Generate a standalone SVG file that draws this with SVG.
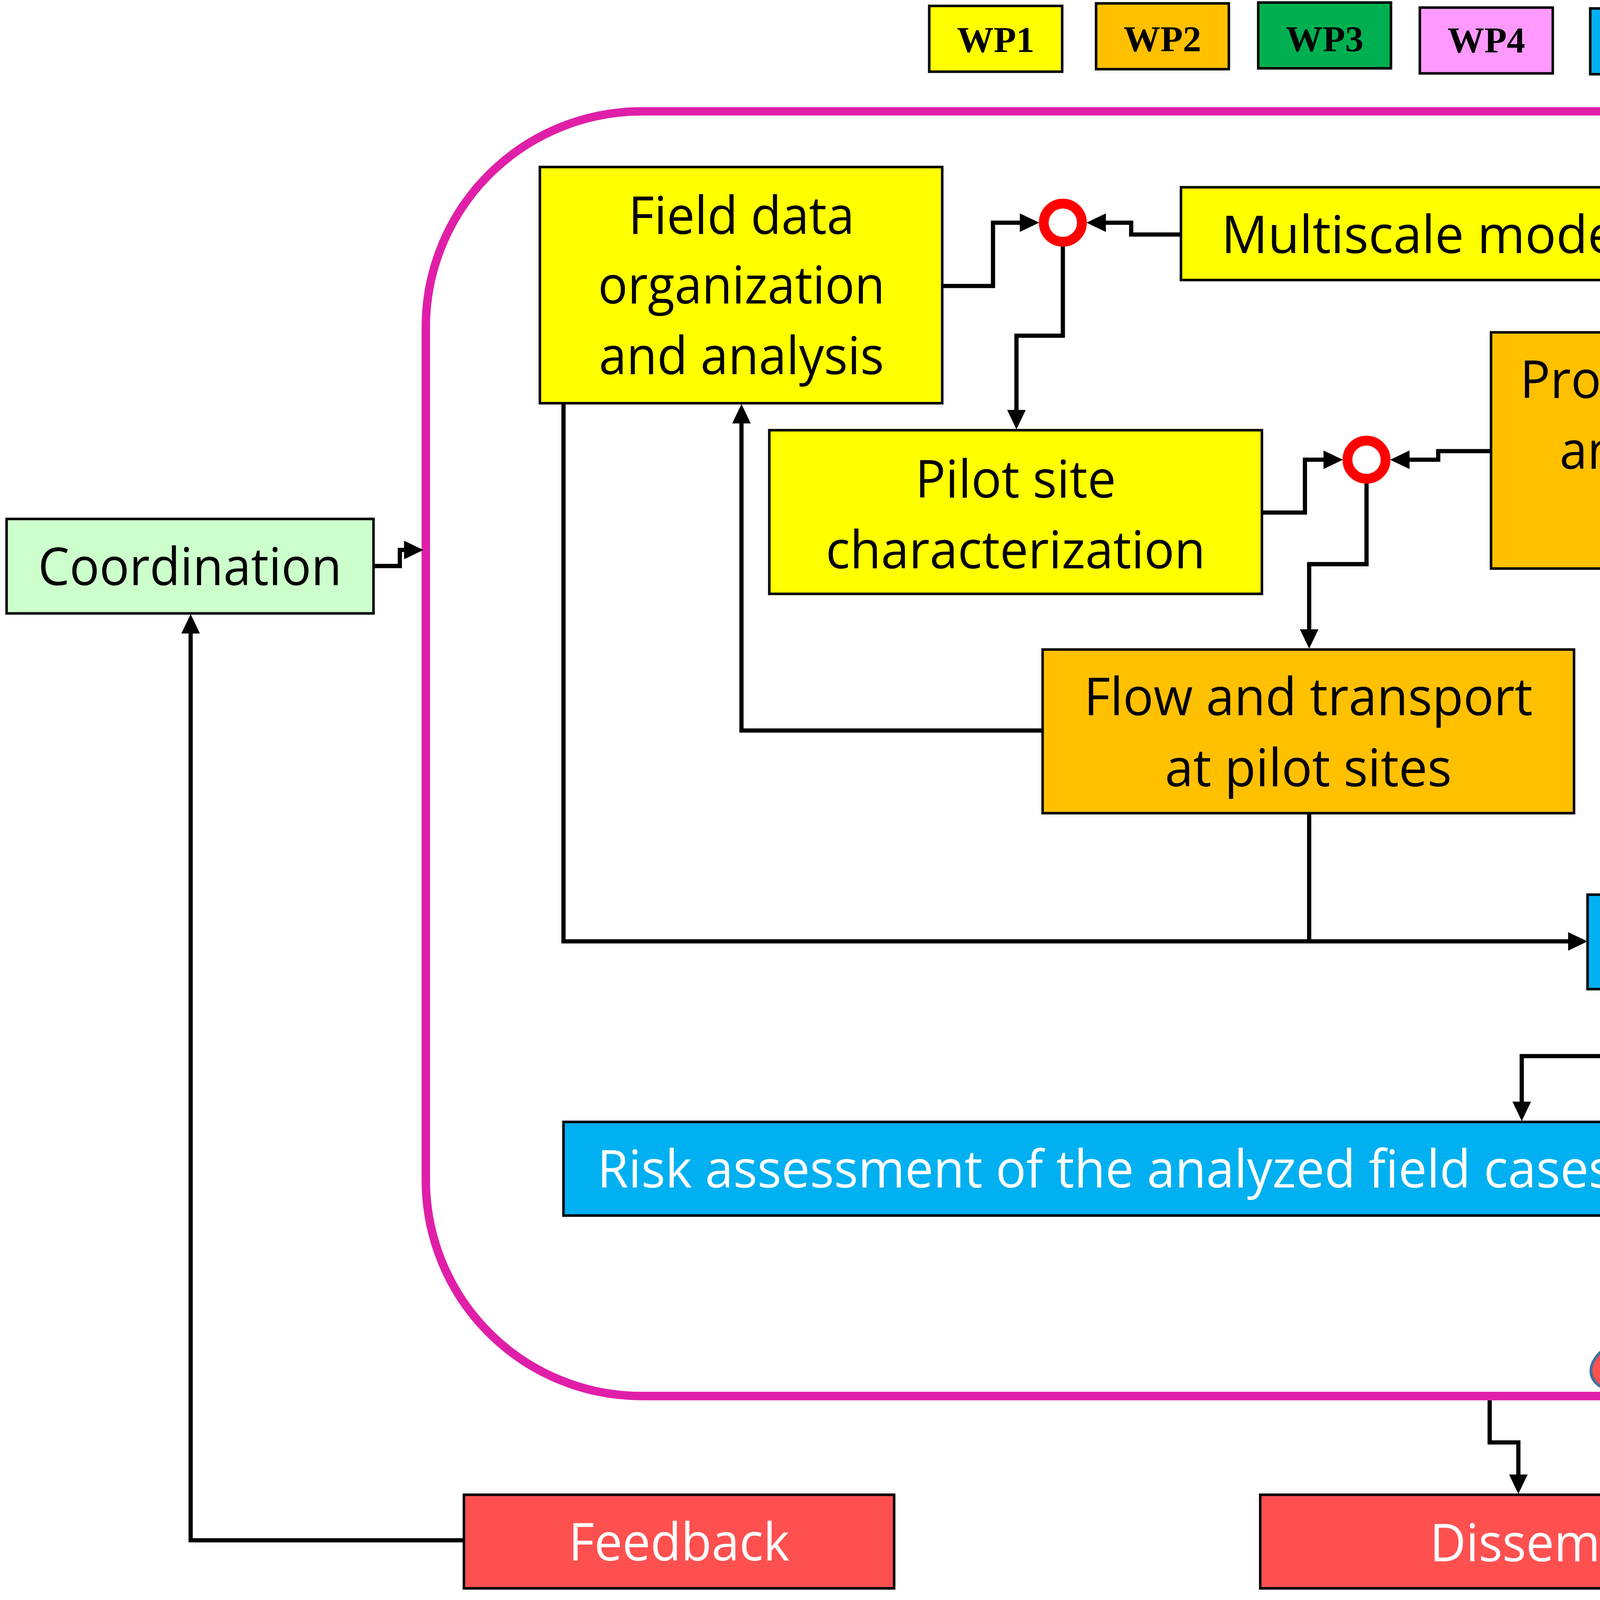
<svg xmlns="http://www.w3.org/2000/svg" width="6772" height="4127" viewBox="0 0 6772 4127">
<defs>
<style>
.box{stroke:#000;stroke-width:1.5}
.t{font-family:"Open Sans","Liberation Sans",sans-serif;font-size:31px;text-anchor:middle}
.k{fill:#000}
.w{fill:#fff}
.lg{font-family:"Liberation Serif","Times New Roman",serif;font-weight:bold;font-size:21.5px;text-anchor:middle;fill:#000}
.conn{fill:none;stroke:#000;stroke-width:2.5;marker-end:url(#arr)}
.plain{fill:none;stroke:#000;stroke-width:2.5}
.ring{fill:#fff;stroke:#FF0000;stroke-width:5.8}
.y{fill:#FFFF00}.o{fill:#FFC000}.g{fill:#00B050}.p{fill:#FF99FF}.b{fill:#00B0F0}.r{fill:#FF5050}.lgn{fill:#CCFFCC}
</style>
<marker id="arr" markerUnits="userSpaceOnUse" markerWidth="12" markerHeight="12" refX="5" refY="5.5" orient="auto" overflow="visible"><path d="M0,0 L11.5,5.5 L0,11 Z" fill="#000"/></marker>
</defs>
<rect width="6772" height="4127" fill="#fff"/>
<g transform="scale(4.31888)">
<g id="legend">
<g id="wp1"><rect class="box y" x="550.8" y="3.5" width="78.8" height="39"/><text class="lg" x="590.2" y="30.7" textLength="46" lengthAdjust="spacingAndGlyphs">WP1</text></g>
<g id="wp2"><rect class="box o" x="649.7" y="2" width="78.7" height="39"/><text class="lg" x="689" y="30.3" textLength="46" lengthAdjust="spacingAndGlyphs">WP2</text></g>
<g id="wp3"><rect class="box g" x="745.8" y="1.5" width="78.7" height="39"/><text class="lg" x="785.2" y="30.3" textLength="46" lengthAdjust="spacingAndGlyphs">WP3</text></g>
<g id="wp4"><rect class="box p" x="841.6" y="4.5" width="78.8" height="39"/><text class="lg" x="881" y="31" textLength="46" lengthAdjust="spacingAndGlyphs">WP4</text></g>
<g id="wp5"><rect class="box b" x="942.6" y="5" width="78.7" height="39"/><text class="lg" x="982" y="31.7" textLength="46" lengthAdjust="spacingAndGlyphs">WP5</text></g>
<g id="wp6"><rect class="box r" x="1033" y="4.8" width="78.6" height="39"/><text class="lg" x="1072.3" y="31.7" textLength="46" lengthAdjust="spacingAndGlyphs">WP6</text></g>
<g id="wp7"><rect class="box lgn" x="1128.3" y="4.5" width="78.7" height="39"/><text class="lg" x="1167.7" y="31.7" textLength="46" lengthAdjust="spacingAndGlyphs">WP7</text></g>
</g>
<g id="boundary"><rect x="252.4" y="66" width="1312.6" height="761.5" rx="128" ry="128" fill="none" stroke="#E01FA9" stroke-width="5"/></g>
<g id="connectors">
<path class="conn" d="M558.5,169.5 H588.6 V132 H609.5"/>
<path class="conn" d="M700,139 H670.5 V132 H650.5"/>
<path class="conn" d="M630,146 V199 H602.5 V248"/>
<path class="conn" d="M748,303.8 H773.5 V272.5 H789.5"/>
<path class="conn" d="M883.8,267.4 H852.5 V272.5 H830.5"/>
<path class="conn" d="M810,286.5 V334.4 H776 V378"/>
<path class="conn" d="M618,433 H439.5 V246"/>
<path class="conn" d="M334,239 V558 H934.5"/>
<path class="plain" d="M776,482 V558"/>
<path class="conn" d="M1206,215 H1180.5 V267.4 H1160"/>
<path class="conn" d="M1507.5,215 H1542.5 V558.5 H1502.5"/>
<path class="conn" d="M1357.5,306 V354 H1318 V396"/>
<path class="conn" d="M1281,403 V313"/>
<path class="conn" d="M1221,431 H1018.5 V344"/>
<path class="conn" d="M1318,459 V494 H1218.5 V523.5"/>
<path class="conn" d="M957,586 V626 H902 V658"/>
<path class="conn" d="M975.4,692 H1008 V699.5 H1031.5"/>
<path class="conn" d="M1123.4,706 H1093.6 V699.5 H1072.5"/>
<path class="conn" d="M1051.5,713.5 V747.5"/>
<path class="conn" d="M221.4,335.5 H237 V326 H244.5"/>
<path class="conn" d="M275,913 H113 V370.5"/>
<path class="conn" d="M883,830 V855 H900 V879"/>
</g>
<g id="junction1"><circle class="ring" cx="630" cy="132" r="11.3"/></g>
<g id="junction2"><circle class="ring" cx="810" cy="272.5" r="11.3"/></g>
<g id="junction3"><circle class="ring" cx="1052" cy="699.5" r="11.3"/></g>
<g id="field-data">
<rect class="box y" x="320" y="99" width="238.5" height="140"/>
<text class="t k" x="439.5" y="138.6" textLength="134" lengthAdjust="spacingAndGlyphs">Field data</text>
<text class="t k" x="439.5" y="180" textLength="170" lengthAdjust="spacingAndGlyphs">organization</text>
<text class="t k" x="439.5" y="221.8" textLength="169" lengthAdjust="spacingAndGlyphs">and analysis</text>
</g>
<g id="multiscale">
<rect class="box y" x="700" y="111" width="289" height="55"/>
<text class="t k" x="845" y="150" textLength="242" lengthAdjust="spacingAndGlyphs">Multiscale model</text>
</g>
<g id="pilot-site">
<rect class="box y" x="456" y="255" width="292" height="97"/>
<text class="t k" x="602" y="295" textLength="119" lengthAdjust="spacingAndGlyphs">Pilot site</text>
<text class="t k" x="602" y="337" textLength="225" lengthAdjust="spacingAndGlyphs">characterization</text>
</g>
<g id="probabilistic">
<rect class="box o" x="883.8" y="197" width="269.4" height="140"/>
<text class="t k" x="1019.5" y="236" textLength="237" lengthAdjust="spacingAndGlyphs">Probabilistic flow</text>
<text class="t k" x="1019.5" y="277.8" textLength="190" lengthAdjust="spacingAndGlyphs">and transport</text>
<text class="t k" x="1019.5" y="319.5" textLength="129.5" lengthAdjust="spacingAndGlyphs">modeling</text>
</g>
<g id="emerging">
<rect class="box g" x="1206" y="124.5" width="301.5" height="181.5"/>
<text class="t k" x="1357.3" y="163.8" textLength="129" lengthAdjust="spacingAndGlyphs">Emerging</text>
<text class="t k" x="1357" y="204.8" textLength="267" lengthAdjust="spacingAndGlyphs">contaminants (ECs)</text>
<text class="t k" x="1356.5" y="246.6" textLength="177.7" lengthAdjust="spacingAndGlyphs">– Laboratory</text>
<text class="t k" x="1357" y="287.3" textLength="173.5" lengthAdjust="spacingAndGlyphs">experiments</text>
</g>
<g id="ecotoxicity">
<rect class="box p" x="1221" y="402.9" width="193.4" height="55.8"/>
<text class="t k" x="1318.5" y="442" textLength="148" lengthAdjust="spacingAndGlyphs">Ecotoxicity</text>
</g>
<g id="flow-transport">
<rect class="box o" x="618" y="385" width="315" height="97"/>
<text class="t k" x="775.5" y="424" textLength="266" lengthAdjust="spacingAndGlyphs">Flow and transport</text>
<text class="t k" x="775.5" y="466" textLength="170" lengthAdjust="spacingAndGlyphs">at pilot sites</text>
</g>
<g id="groundwater">
<rect class="box b" x="941" y="530.3" width="554.5" height="56"/>
<text class="t w" x="1218.5" y="569" textLength="511" lengthAdjust="spacingAndGlyphs">Groundwater risk assessment model</text>
</g>
<g id="risk-field">
<rect class="box b" x="334" y="665" width="641.4" height="55.5"/>
<text class="t w" x="655" y="704" textLength="602" lengthAdjust="spacingAndGlyphs">Risk assessment of the analyzed field cases</text>
</g>
<g id="stakeholder">
<rect class="box r" x="1123.4" y="678.6" width="348.6" height="55.7"/>
<text class="t w" x="1297.7" y="718.5" textLength="259" lengthAdjust="spacingAndGlyphs">Stakeholder needs</text>
</g>
<g id="decision">
<path d="M966.4,791.5 C972.1,771.4 993.1,760.0 1032.6,764.2 C1047.1,750.6 1071.9,751.5 1086.3,758.3 C1099.3,745.9 1120.7,746.0 1133.9,756.8 C1147.0,742.4 1181.0,746.3 1189.7,766.4 C1206.0,767.5 1214.7,784.6 1212.4,794.5 C1225.4,801.1 1227.5,830.5 1184.1,837.7 C1178.6,859.0 1151.1,864.5 1127.7,856.5 C1118.0,881.4 1080.1,887.9 1048.1,864.2 C1035.2,876.9 989.3,872.3 978.8,852.1 C955.6,853.9 942.7,840.1 956.1,824 C937.6,821.8 936.8,801.6 966.4,791.5 Z" fill="#FF5050" stroke="#41719C" stroke-width="1.7"/>
<path d="M1032.6,764.2 Q1037,765.5 1040.8,768.6 M1086.3,758.3 Q1085.6,760.5 1085.3,763.2 M1133.9,756.8 Q1131.5,758.8 1129.7,761.3 M1189.7,766.4 Q1190,767.5 1190.1,768.6 M1212.4,794.5 Q1209,799.5 1203.1,802.2 M1184.1,837.7 Q1180.4,822.5 1162.8,816.3 M1127.7,856.5 Q1128,854 1127.7,851.3 M1048.1,864.2 Q1045.5,861.5 1043.9,858.4 M978.8,852.1 Q982.5,851.5 986,851.3 M956.1,824 Q961.2,826.2 971.6,826.2 M966.4,791.5 Q966.8,793.8 968.5,795.7" fill="none" stroke="#41719C" stroke-width="1.7"/>
<text class="t w" x="1072" y="800.4" textLength="113.7" lengthAdjust="spacingAndGlyphs">Decision</text>
<text class="t w" x="1072.5" y="841.7" textLength="139" lengthAdjust="spacingAndGlyphs">under risk</text>
</g>
<g id="coordination">
<rect class="box lgn" x="3.9" y="307.6" width="217.5" height="56"/>
<text class="t k" x="112.6" y="346.8" textLength="180" lengthAdjust="spacingAndGlyphs">Coordination</text>
</g>
<g id="feedback">
<rect class="box r" x="275" y="886" width="255" height="55.5"/>
<text class="t w" x="402.5" y="925" textLength="131" lengthAdjust="spacingAndGlyphs">Feedback</text>
</g>
<g id="dissemination">
<rect class="box r" x="747" y="886" width="398" height="55.5"/>
<text class="t w" x="946" y="925.5" textLength="197" lengthAdjust="spacingAndGlyphs">Dissemination</text>
</g>
</g>
</svg>
